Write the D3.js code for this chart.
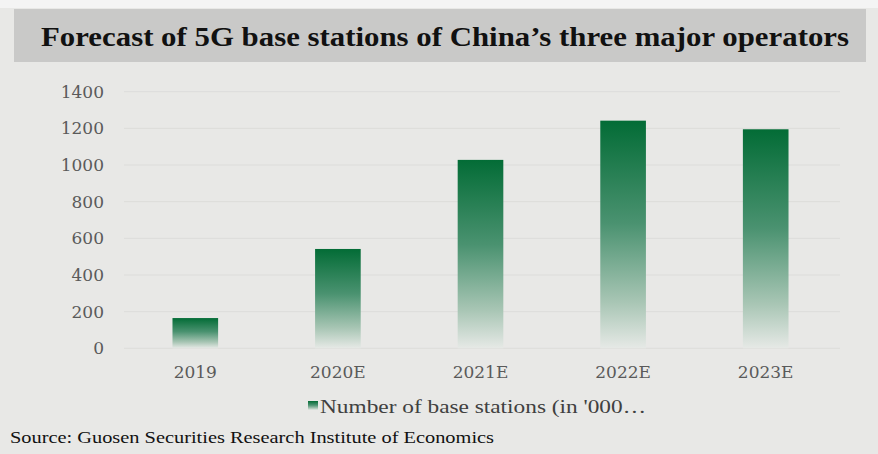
<!DOCTYPE html>
<html>
<head>
<meta charset="utf-8">
<script src="https://cdn.jsdelivr.net/npm/d3@7"></script>
<style>
  html, body { margin: 0; padding: 0; background: #ffffff; }
  svg { display: block; }
</style>
</head>
<body>
<svg id="chart" width="878" height="454"></svg>
<script>
const categories = ["2019", "2020E", "2021E", "2022E", "2023E"];
const values = [165, 542, 1028, 1242, 1195];
const yTicks = [0, 200, 400, 600, 800, 1000, 1200, 1400];
const titleText = "Forecast of 5G base stations of China\u2019s three major operators";
const legendText = "Number of base stations (in '000\u2026";
const sourceText = "Source: Guosen Securities Research Institute of Economics";

const svg = d3.select("#chart");
const W = 878, H = 454;

// background
svg.append("rect").attr("x", 0).attr("y", 0).attr("width", W).attr("height", H).attr("fill", "#e8e8e6");
svg.append("rect").attr("x", 0).attr("y", 0).attr("width", W).attr("height", 8).attr("fill", "#f4f4f4");

// title banner
svg.append("rect").attr("x", 14).attr("y", 9).attr("width", 852).attr("height", 53).attr("fill", "#c9c9c8");
svg.append("text").attr("x", 445).attr("y", 46)
  .attr("text-anchor", "middle")
  .attr("font-family", "'Liberation Serif', 'Times New Roman', serif")
  .attr("font-weight", "bold").attr("font-size", 28).attr("fill", "#111")
  .attr("textLength", 808).attr("lengthAdjust", "spacingAndGlyphs")
  .text(titleText);

// scales
const x = d3.scaleBand().domain(categories).range([124, 837]).paddingInner(0.68).paddingOuter(0.34);
const y = d3.scaleLinear().domain([0, 1400]).range([348.3, 91.7]);

// gradient
const defs = svg.append("defs");
const grad = defs.append("linearGradient").attr("id", "barGrad")
  .attr("x1", 0).attr("y1", 0).attr("x2", 0).attr("y2", 1);
grad.append("stop").attr("offset", "0%").attr("stop-color", "#036c36");
grad.append("stop").attr("offset", "45%").attr("stop-color", "#4a9270");
grad.append("stop").attr("offset", "80%").attr("stop-color", "#a9c6b5");
grad.append("stop").attr("offset", "100%").attr("stop-color", "#e6e9e6");

// gridlines
svg.append("g").selectAll("line").data(yTicks).join("line")
  .attr("x1", 124).attr("x2", 840)
  .attr("y1", d => y(d)).attr("y2", d => y(d))
  .attr("stroke", "#dcdcda").attr("stroke-width", 1);

// y axis
const yAxis = svg.append("g").attr("transform", "translate(104,0)")
  .call(d3.axisLeft(y).tickValues(yTicks).tickSize(0).tickPadding(0).tickFormat(d3.format("d")));
yAxis.select(".domain").remove();
yAxis.selectAll("text")
  .attr("font-family", "'DejaVu Serif', serif").attr("font-size", 17).attr("fill", "#5a5a5a");

// x axis
const xAxis = svg.append("g").attr("transform", "translate(0,360)")
  .call(d3.axisBottom(x).tickSize(0).tickPadding(0));
xAxis.select(".domain").remove();
xAxis.selectAll("text")
  .attr("dy", "1.05em")
  .attr("font-family", "'DejaVu Serif', serif").attr("font-size", 17).attr("fill", "#5a5a5a");

// bars
svg.append("g").selectAll("rect").data(values).join("rect")
  .attr("x", (d, i) => x(categories[i]))
  .attr("width", x.bandwidth())
  .attr("y", d => y(d))
  .attr("height", d => y(0) - y(d))
  .attr("fill", "url(#barGrad)");

// legend
svg.append("rect").attr("x", 308).attr("y", 401).attr("width", 10).attr("height", 9).attr("fill", "url(#barGrad)");
svg.append("text").attr("x", 320).attr("y", 413)
  .attr("font-family", "'Liberation Serif', 'Times New Roman', serif")
  .attr("font-size", 19).attr("fill", "#404040")
  .attr("textLength", 326).attr("lengthAdjust", "spacingAndGlyphs")
  .text(legendText);

// source
svg.append("text").attr("x", 10).attr("y", 443)
  .attr("font-family", "'Liberation Serif', 'Times New Roman', serif")
  .attr("font-size", 16).attr("fill", "#111")
  .attr("textLength", 484).attr("lengthAdjust", "spacingAndGlyphs")
  .text(sourceText);
</script>
</body>
</html>
